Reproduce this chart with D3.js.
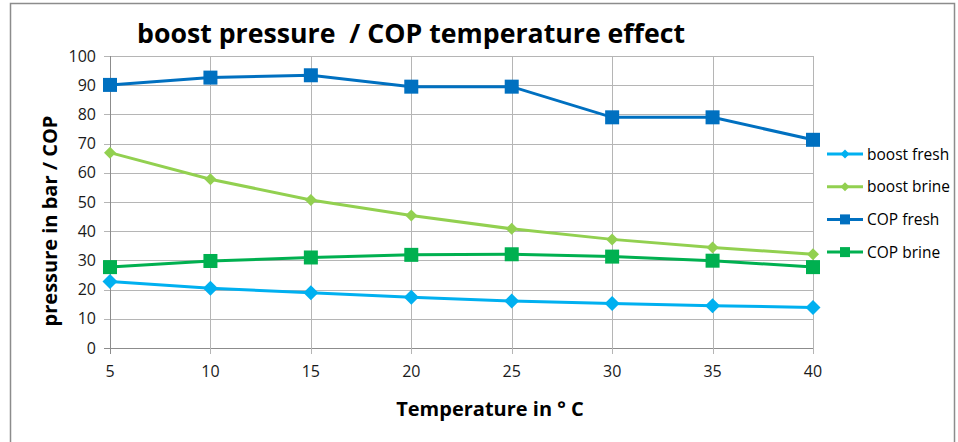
<!DOCTYPE html>
<html>
<head>
<meta charset="utf-8">
<script src="https://cdn.jsdelivr.net/npm/d3@7"></script>
<style>
  body { margin: 0; background: #fff; }
  svg { display: block; font-family: "Open Sans", "Noto Sans", sans-serif; }
</style>
</head>
<body>
<div id="container"></div>
<script>
// data

const temps = [5, 10, 15, 20, 25, 30, 35, 40];
const boostFresh = [22.8, 20.5, 18.9, 17.4, 16.1, 15.2, 14.5, 13.9];
const boostBrine = [66.9, 57.8, 50.7, 45.4, 40.8, 37.2, 34.4, 32.1];
const copFresh = [90.1, 92.6, 93.4, 89.5, 89.5, 79.0, 79.0, 71.3];
const copBrine = [27.7, 29.8, 31.0, 31.9, 32.1, 31.3, 29.9, 27.7];
const seriesNames = ["boost fresh", "boost brine", "COP fresh", "COP brine"];
const yTicks = [0, 10, 20, 30, 40, 50, 60, 70, 80, 90, 100];

// series styling (colour, marker)
const series = [
  { name: seriesNames[0], values: boostFresh, color: "#00b0f0", shape: "diamond", size: 15 },
  { name: seriesNames[1], values: boostBrine, color: "#92d050", shape: "diamond", size: 12 },
  { name: seriesNames[2], values: copFresh, color: "#0070c0", shape: "square", size: 14 },
  { name: seriesNames[3], values: copBrine, color: "#00b050", shape: "square", size: 14 }
];

const width = 958, height = 442;

const svg = d3.select("#container")
  .append("svg")
  .attr("width", width)
  .attr("height", height);

// outer chart border
svg.append("rect")
  .attr("x", 10.5).attr("y", 3.5)
  .attr("width", 944).attr("height", 460)
  .attr("fill", "#fff")
  .attr("stroke", "#8c8c8c")
  .attr("stroke-width", 1.5);

// scales
const x = d3.scaleLinear().domain([5, 40]).range([110, 813]);
const y = d3.scaleLinear().domain([0, 100]).range([348, 56]);

// grid
const grid = svg.append("g");
grid.selectAll(".hg").data(yTicks).join("line")
  .attr("x1", 104).attr("x2", x(40))
  .attr("y1", d => Math.round(y(d)) + 0.5).attr("y2", d => Math.round(y(d)) + 0.5)
  .attr("stroke", d => d === 0 ? "#8c8c8c" : "#b5b5b5")
  .attr("stroke-width", 1);
grid.selectAll(".vg").data(temps).join("line")
  .attr("x1", d => Math.round(x(d)) + 0.5).attr("x2", d => Math.round(x(d)) + 0.5)
  .attr("y1", y(100)).attr("y2", y(0) + 6)
  .attr("stroke", d => d === 5 ? "#8c8c8c" : "#b5b5b5")
  .attr("stroke-width", 1);

// tick labels
svg.append("g").selectAll("text").data(yTicks).join("text")
  .attr("x", 96).attr("y", d => y(d) + 5.5)
  .attr("text-anchor", "end")
  .attr("font-size", 16)
  .attr("fill", "#1a1a1a")
  .text(d => d);

svg.append("g").selectAll("text").data(temps).join("text")
  .attr("x", d => x(d)).attr("y", 377)
  .attr("text-anchor", "middle")
  .attr("font-size", 16)
  .attr("fill", "#1a1a1a")
  .text(d => d);

// lines + markers
const line = d3.line().x((d, i) => x(temps[i])).y(d => y(d));

function marker(sel, s) {
  const h = s.size / 2;
  if (s.shape === "square") {
    sel.append("rect")
      .attr("x", -h).attr("y", -h)
      .attr("width", s.size).attr("height", s.size)
      .attr("fill", s.color);
  } else {
    sel.append("path")
      .attr("d", `M0,${-h}L${h},0L0,${h}L${-h},0Z`)
      .attr("fill", s.color);
  }
}

series.forEach(s => {
  svg.append("path")
    .datum(s.values)
    .attr("d", line)
    .attr("fill", "none")
    .attr("stroke", s.color)
    .attr("stroke-width", 3);
  svg.append("g").selectAll("g").data(s.values).join("g")
    .attr("transform", (d, i) => `translate(${x(temps[i])},${y(d)})`)
    .each(function () { marker(d3.select(this), s); });
});

// legend
const legend = svg.append("g").selectAll("g").data(series).join("g")
  .attr("transform", (d, i) => `translate(827,${154 + i * 32.7})`);
legend.append("line")
  .attr("x1", 0).attr("x2", 36)
  .attr("stroke", d => d.color).attr("stroke-width", 3);
legend.each(function (s) {
  const g = d3.select(this).append("g").attr("transform", "translate(18,0)");
  marker(g, { ...s, size: s.shape === "square" ? 10 : 9 });
});
legend.append("text")
  .attr("x", 40).attr("y", 5.5)
  .attr("font-size", 15.5)
  .attr("fill", "#000")
  .text(d => d.name);

// title and axis titles
svg.append("text")
  .attr("x", 137).attr("y", 43)
  .attr("font-size", 26.7)
  .attr("font-weight", "bold")
  .attr("fill", "#000")
  .style("white-space", "pre")
  .text("boost pressure  / COP temperature effect");

svg.append("text")
  .attr("transform", "translate(57,221) rotate(-90)")
  .attr("text-anchor", "middle")
  .attr("font-size", 20)
  .attr("font-weight", "bold")
  .attr("fill", "#000")
  .text("pressure in bar / COP");

svg.append("text")
  .attr("x", 490).attr("y", 416)
  .attr("text-anchor", "middle")
  .attr("font-size", 20)
  .attr("font-weight", "bold")
  .attr("fill", "#000")
  .text("Temperature in ° C");
</script>
</body>
</html>
